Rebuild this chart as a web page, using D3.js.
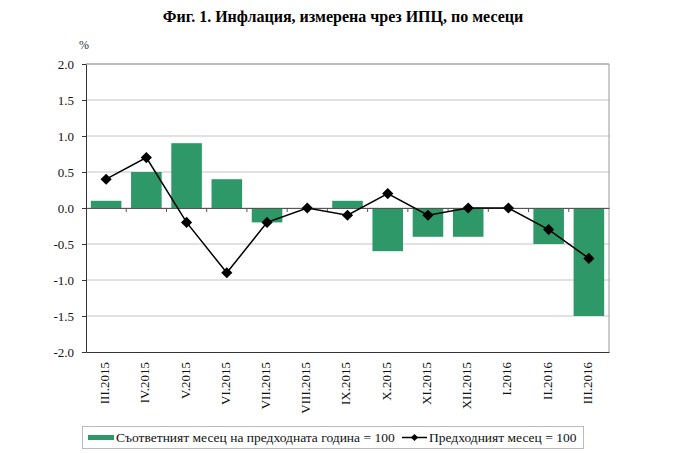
<!DOCTYPE html>
<html><head><meta charset="utf-8">
<script src="https://cdn.jsdelivr.net/npm/d3@7"></script>
<style>body{margin:0;background:#fff;} svg{display:block;}</style>
</head><body>
<script>
const categories = ["III.2015","IV.2015","V.2015","VI.2015","VII.2015","VIII.2015","IX.2015","X.2015","XI.2015","XII.2015","I.2016","II.2016","III.2016"];
const yearOnYear = [0.1,0.5,0.9,0.4,-0.2,0.0,0.1,-0.6,-0.4,-0.4,0.0,-0.5,-1.5];
const monthOnMonth = [0.4,0.7,-0.2,-0.9,-0.2,0.0,-0.1,0.2,-0.1,0.0,0.0,-0.3,-0.7];
const yTicks = [2.0,1.5,1.0,0.5,0.0,-0.5,-1.0,-1.5,-2.0];
const seriesNames = ["Съответният месец на предходната година = 100","Предходният месец = 100"];
const title = "Фиг. 1. Инфлация, измерена чрез ИПЦ, по месеци";

const W=680,H=453;
const m={l:86,r:71,t:64,b:101};
const green="#2e9868";
const font="'Liberation Serif','Times New Roman',serif";
const svg=d3.select("body").append("svg").attr("width",W).attr("height",H).style("font-family",font);

const x=d3.scaleBand().domain(categories).range([m.l,W-m.r]).paddingInner(0.24).paddingOuter(0.12);
const xb=d3.scaleBand().domain(categories).range([m.l,W-m.r]);
const y=d3.scaleLinear().domain([-2,2]).range([H-m.b,m.t]);

svg.append("text").attr("x",343).attr("y",22).attr("text-anchor","middle").attr("font-weight","bold").attr("font-size",16).text(title);
svg.append("text").attr("x",84).attr("y",49).attr("text-anchor","middle").attr("font-size",12).attr("fill","#333").text("%");

// grid
svg.append("g").selectAll("line").data(yTicks.filter(d=>d!==-2)).join("line")
 .attr("x1",m.l).attr("x2",W-m.r).attr("y1",d=>y(d)).attr("y2",d=>y(d))
 .attr("stroke","#c4c4c4").attr("stroke-width",1);
// frame right
svg.append("line").attr("x1",W-m.r).attr("x2",W-m.r).attr("y1",m.t).attr("y2",H-m.b).attr("stroke","#999");

// y axis
const ya=svg.append("g").attr("transform",`translate(${m.l},0)`).call(d3.axisLeft(y).tickValues(yTicks).tickFormat(d3.format(".1f")).tickSize(4).tickPadding(8));
ya.select(".domain").attr("stroke","#333");
ya.selectAll(".tick line").attr("stroke","#333");
ya.selectAll("text").attr("font-family",font).attr("font-size",13).attr("fill","#111").text(d=>d3.format(".1f")(d).replace("−","-"));

// bars
svg.append("g").selectAll("rect").data(yearOnYear).join("rect")
 .attr("x",(d,i)=>x(categories[i])).attr("width",x.bandwidth())
 .attr("y",d=>y(Math.max(0,d))).attr("height",d=>Math.abs(y(d)-y(0)))
 .attr("fill",green);

// zero line with ticks
const za=svg.append("g").attr("transform",`translate(0,${y(0)})`).call(d3.axisBottom(xb).tickValues([]).tickSizeOuter(0));
za.select(".domain").attr("stroke","#555");
svg.append("g").selectAll("line").data(categories.slice(1)).join("line")
 .attr("x1",d=>xb(d)).attr("x2",d=>xb(d)).attr("y1",y(0)).attr("y2",y(0)+4).attr("stroke","#555");

// bottom axis
const xa=svg.append("g").attr("transform",`translate(0,${H-m.b})`).call(d3.axisBottom(xb).tickSize(0).tickSizeOuter(0));
xa.select(".domain").attr("stroke","#333");
xa.selectAll("text").attr("font-family",font).attr("font-size",13).attr("fill","#111")
 .attr("transform","rotate(-90)").attr("text-anchor","end").attr("x",-10).attr("y",0)
 .attr("dominant-baseline","middle").attr("dy","0");
// top frame
svg.append("line").attr("x1",m.l).attr("x2",W-m.r).attr("y1",m.t).attr("y2",m.t).attr("stroke","#999");

// line
const line=d3.line().x((d,i)=>xb(categories[i])+xb.bandwidth()/2).y(d=>y(d));
svg.append("path").datum(monthOnMonth).attr("d",line).attr("fill","none").attr("stroke","#000").attr("stroke-width",1.5);
const diamond=d3.symbol().type(d3.symbolSquare).size(62);
svg.append("g").selectAll("path").data(monthOnMonth).join("path")
 .attr("d",diamond)
 .attr("transform",(d,i)=>`translate(${xb(categories[i])+xb.bandwidth()/2},${y(d)}) rotate(45)`)
 .attr("fill","#000");

// legend
const lg=svg.append("g");
lg.append("rect").attr("x",82.5).attr("y",426.5).attr("width",501).attr("height",22).attr("fill","#fff").attr("stroke","#bbb");
lg.append("rect").attr("x",88).attr("y",435).attr("width",26).attr("height",5).attr("fill",green);
lg.append("text").attr("x",116).attr("y",442).attr("font-size",13.5).attr("fill","#111").text(seriesNames[0]);
lg.append("line").attr("x1",402).attr("x2",427).attr("y1",437.5).attr("y2",437.5).attr("stroke","#000").attr("stroke-width",1.5);
lg.append("path").attr("d",d3.symbol().type(d3.symbolSquare).size(26)).attr("transform","translate(414.5,437.5) rotate(45)").attr("fill","#000");
lg.append("text").attr("x",429).attr("y",442).attr("font-size",13.5).attr("fill","#111").text(seriesNames[1]);
</script>
</body></html>
